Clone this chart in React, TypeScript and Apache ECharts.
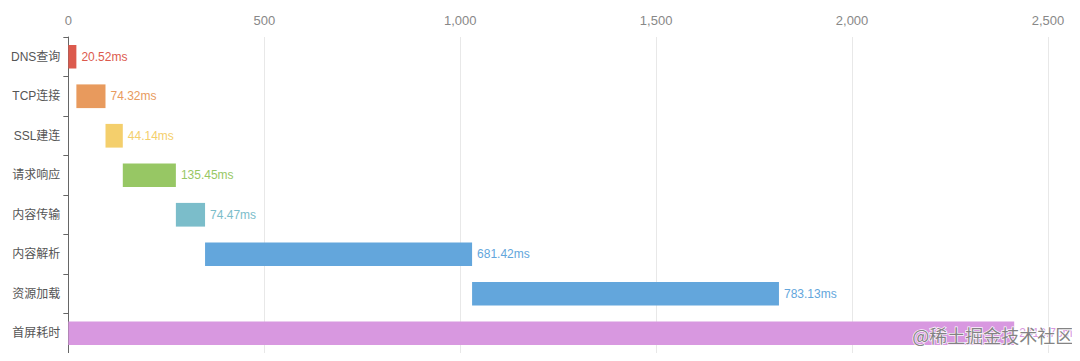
import React, { useEffect, useRef } from "react";
import * as echarts from "echarts";

const categories = ["DNS查询", "TCP连接", "SSL建连", "请求响应", "内容传输", "内容解析", "资源加载", "首屏耗时"];
const durations = [20.52, 74.32, 44.14, 135.45, 74.47, 681.42, 783.13, 2413.76];
const colors = ["#dc5a4d", "#e89a5d", "#f4cf6c", "#97c764", "#7bbdca", "#63a6dc", "#63a6dc", "#d898e0"];
const xTicks = [0, 500, 1000, 1500, 2000, 2500];

// offsets: each phase starts where the previous ended; the total starts at 0
const offsets: number[] = durations.map((_, i) => {
  if (i === durations.length - 1) return 0;
  let s = 0;
  for (let j = 0; j < i; j++) s += durations[j];
  return s;
});

export default function App() {
  const ref = useRef<HTMLDivElement>(null);
  useEffect(() => {
    if (!ref.current) return;
    const chart = echarts.init(ref.current, undefined, { renderer: "svg" });
    chart.setOption({
      animation: false,
      textStyle: { fontFamily: "Helvetica, Arial, 'Noto Sans CJK SC', sans-serif" },
      grid: { left: 55, right: 32, top: 29, bottom: 0, containLabel: false },
      xAxis: {
        type: "value",
        position: "top",
        min: xTicks[0],
        max: xTicks[xTicks.length - 1],
        interval: 500,
        axisLine: { show: false },
        axisTick: { show: false },
        axisLabel: {
          color: "#888",
          fontSize: 13,
          margin: 10,
          formatter: (v: number) => v.toLocaleString("en-US"),
        },
        splitLine: { show: true, lineStyle: { color: "#e8e8e8" } },
      },
      yAxis: {
        type: "category",
        data: categories,
        inverse: true,
        axisLine: { show: true, lineStyle: { color: "#666" } },
        axisTick: { show: true, length: 5, lineStyle: { color: "#666" } },
        axisLabel: { color: "#555", fontSize: 12, margin: 8 },
      },
      series: [
        {
          type: "bar",
          stack: "w",
          barWidth: "60%",
          itemStyle: { color: "transparent" },
          emphasis: { disabled: true },
          data: offsets,
          silent: true,
        },
        {
          type: "bar",
          stack: "w",
          barWidth: "60%",
          data: durations.map((v, i) => ({
            value: v,
            itemStyle: { color: colors[i] },
            label: { color: colors[i] },
          })),
          label: {
            show: true,
            position: "right",
            fontSize: 12,
            distance: 5,
            formatter: (p: any) => `${p.value}ms`,
          },
        },
      ],
      graphic: [
        {
          type: "text",
          right: 6,
          top: 317,
          z: 100,
          style: {
            text: "@稀土掘金技术社区",
            fontSize: 18,
            fontFamily: "'Noto Sans CJK SC', sans-serif",
            fill: "rgba(110,110,110,0.85)",
            stroke: "rgba(255,255,255,0.9)",
            lineWidth: 1.5,
          },
        },
      ],
    });
    return () => chart.dispose();
  }, []);
  return <div ref={ref} style={{ width: 1072, height: 345 }} />;
}
